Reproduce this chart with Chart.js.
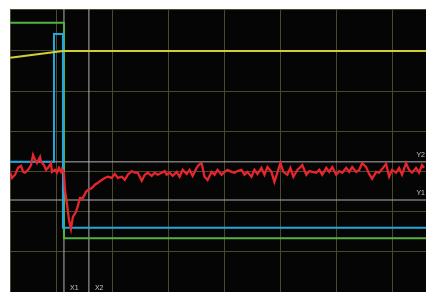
<!DOCTYPE html>
<html>
<head>
<meta charset="utf-8">
<script src="https://cdn.jsdelivr.net/npm/chart.js@4.4.1/dist/chart.umd.min.js"></script>
<style>
  html, body { margin: 0; padding: 0; background: #ffffff; }
  #wrap { width: 426px; height: 292px; }
</style>
</head>
<body>
<div id="wrap"><canvas id="scope-chart" width="426" height="292"></canvas></div>
<script>
//? trace data (time in samples, level in 1/10 division)
const redT = [9, 11, 14, 17, 20, 22, 24, 27, 30, 32, 34, 36, 39, 40, 43, 45, 47, 50, 51, 54, 56, 58, 60, 61, 63,
  64, 66, 68, 70, 72, 75, 77, 79, 82, 85, 87, 91, 94, 97, 101, 104, 107, 111, 114, 117, 121, 124, 127, 131, 134,
  137, 141, 144, 147, 151, 154, 157, 161, 164, 166, 169, 172, 176, 179, 182, 186, 189, 192, 196, 198, 201, 204,
  207, 211, 214, 217, 221, 224, 227, 231, 234, 237, 241, 244, 247, 251, 254, 257, 261, 264, 267, 271, 274, 277,
  280, 283, 287, 290, 293, 297, 300, 302, 306, 309, 312, 316, 319, 322, 326, 329, 332, 336, 339, 342, 346, 349,
  352, 356, 359, 362, 366, 369, 372, 376, 379, 382, 386, 389, 392, 396, 399, 402, 406, 409, 412, 416, 419, 422, 424]
const redV = [29.7, 28.4, 29.2, 30.9, 31.4, 29.9, 29.7, 30.4, 31.6, 34.1, 32.9, 32.1, 33.6, 32.4, 31.6, 30.4, 30.9, 32.1, 29.9, 30.4, 29.7, 30.9, 29.9, 30.6, 29.7,
  25.4, 21.9, 18.0, 15.7, 18.7, 19.9, 21.5, 23.4, 23.4, 24.9, 25.4, 25.9, 26.7, 27.2, 27.9, 28.4, 28.7, 28.4, 29.4, 28.4, 28.7, 27.9, 29.2, 30.1, 29.7,
  29.7, 27.7, 29.2, 29.7, 28.9, 29.7, 29.2, 29.7, 30.1, 29.2, 29.7, 28.9, 29.9, 28.7, 30.4, 29.4, 30.4, 28.9, 30.9, 31.6, 32.1, 28.7,
  27.9, 29.9, 29.2, 30.4, 29.2, 29.9, 30.4, 29.9, 29.7, 30.1, 30.4, 29.2, 29.9, 28.7, 30.4, 29.4, 30.9, 29.2, 31.1, 29.9, 27.4, 29.7,
  32.1, 29.9, 29.2, 30.9, 28.7, 30.4, 31.1, 31.6, 29.2, 30.1, 29.9, 29.7, 30.4, 29.2, 30.9, 29.9, 31.1, 29.2, 30.1, 29.7, 30.9, 29.9,
  31.1, 29.9, 30.4, 32.1, 31.1, 29.4, 28.2, 29.9, 29.7, 30.6, 31.9, 28.7, 30.4, 29.7, 30.9, 29.2, 32.1, 30.4, 29.7, 30.9, 29.7, 31.6, 30.9]

const greenT = [9, 63, 63, 426]
const greenV = [67.0, 67.0, 13.4, 13.4]

const blueT = [9, 53, 53, 62, 62, 426]
const blueV = [32.4, 32.4, 64.2, 64.2, 16.0, 16.0]

const yellowT = [9, 62, 426]
const yellowV = [58.3, 60.0, 60.0]

//? cursors
const cursorX = [63, 88]
const cursorXLabels = ['X1', 'X2']
const cursorY = [22.9, 32.4]
const cursorYLabels = ['Y1', 'Y2']

//? grid
const gridT = [56, 112, 168, 224, 280, 336, 392]
const gridV = [10, 20, 30, 40, 50, 60]

const X_MIN = 8.9, X_MAX = 426
const Y_MIN = 0, Y_MAX = 70.45

const toPoints = (xs, ys) => xs.map((x, i) => ({ x: x, y: ys[i] }))

const traceStyle = (color, width) => ({
  borderColor: color,
  backgroundColor: color,
  borderWidth: width,
  pointRadius: 0,
  tension: 0,
  fill: false
})

const cursorSets = []
cursorX.forEach((cx) => {
  cursorSets.push(Object.assign({ data: [{ x: cx, y: Y_MIN }, { x: cx, y: Y_MAX }] }, traceStyle('#b0b0b0', 1)))
})
cursorY.forEach((cy) => {
  cursorSets.push(Object.assign({ data: [{ x: X_MIN, y: cy }, { x: X_MAX, y: cy }] }, traceStyle('#b0b0b0', 1)))
})

const dataScope = {
  datasets: [
    Object.assign({ label: 'signal', data: toPoints(redT, redV) }, traceStyle('#e6262c', 2.3)),
    Object.assign({ label: 'ref', data: toPoints(yellowT, yellowV) }, traceStyle('#d0cf35', 2)),
    Object.assign({ label: 'out', data: toPoints(blueT, blueV) }, traceStyle('#22a8dc', 2)),
    Object.assign({ label: 'trig', data: toPoints(greenT, greenV) }, traceStyle('#55b043', 2)),
    ...cursorSets
  ]
}

const scopeBackground = {
  id: 'scopeBackground',
  beforeDraw(chart) {
    const { ctx, chartArea } = chart
    ctx.save()
    ctx.fillStyle = '#050505'
    ctx.fillRect(chartArea.left, chartArea.top, chartArea.right - chartArea.left, chartArea.bottom - chartArea.top)
    ctx.restore()
  }
}

const cursorLabels = {
  id: 'cursorLabels',
  afterDatasetsDraw(chart) {
    const { ctx, scales } = chart
    ctx.save()
    ctx.font = "7px 'Liberation Sans', sans-serif"
    ctx.fillStyle = '#c4c4c4'
    ctx.textBaseline = 'alphabetic'
    ctx.textAlign = 'left'
    cursorX.forEach((cx, i) => {
      ctx.fillText(cursorXLabels[i], scales.x.getPixelForValue(cx) + 6, scales.y.getPixelForValue(Y_MIN) - 2)
    })
    ctx.textAlign = 'right'
    cursorY.forEach((cy, i) => {
      ctx.fillText(cursorYLabels[i], scales.x.getPixelForValue(X_MAX) - 1, scales.y.getPixelForValue(cy) - 5)
    })
    ctx.restore()
  }
}

const configScope = {
  type: 'line',
  data: dataScope,
  options: {
    responsive: false,
    animation: false,
    devicePixelRatio: 1,
    layout: { padding: { left: 10, top: 9, right: 0, bottom: 0 } },
    plugins: { legend: { display: false }, tooltip: { enabled: false } },
    scales: {
      x: {
        type: 'linear',
        min: X_MIN,
        max: X_MAX,
        afterBuildTicks: (scale) => { scale.ticks = [X_MIN, ...gridT, X_MAX].map(v => ({ value: v })) },
        ticks: { display: false },
        grid: { color: '#4a4a2e', drawTicks: false, lineWidth: 1 },
        border: { display: false }
      },
      y: {
        type: 'linear',
        min: Y_MIN,
        max: Y_MAX,
        afterBuildTicks: (scale) => { scale.ticks = [Y_MIN, ...gridV, Y_MAX].map(v => ({ value: v })) },
        ticks: { display: false },
        grid: { color: '#4a4a2e', drawTicks: false, lineWidth: 1 },
        border: { display: false }
      }
    }
  },
  plugins: [scopeBackground, cursorLabels]
}

const scopeCanvas = document.getElementById('scope-chart')

const scopeChart = new Chart(scopeCanvas, configScope)
</script>
</body>
</html>
